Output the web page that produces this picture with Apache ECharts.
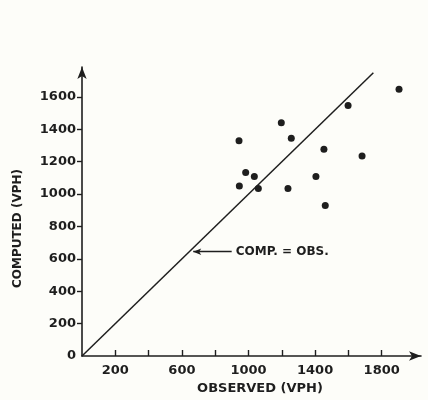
<!DOCTYPE html>
<html>
<head>
<meta charset="utf-8">
<script src="https://cdn.jsdelivr.net/npm/echarts@6/dist/echarts.min.js"></script>
<style>
  html, body { margin: 0; padding: 0; background: #fdfdf9; }
  #chart { width: 428px; height: 400px; }
</style>
</head>
<body>
<div id="chart"></div>
<script>
// observed vs computed volumes (vph)
const observed = [1904, 1598, 1197, 943, 1257, 1453, 1682, 983, 1035, 1405, 945, 1059, 1237, 1461]
const computed = [1647, 1547, 1441, 1330, 1345, 1277, 1236, 1134, 1109, 1109, 1050, 1034, 1034, 929]

// line of equality
const equalLine = [[0, 0], [1750, 1750]]

const xTicks = [200, 400, 600, 800, 1000, 1200, 1400, 1600, 1800]
const xLabels = [200, 600, 1000, 1400, 1800]
const yTicks = [200, 400, 600, 800, 1000, 1200, 1400, 1600]
const yLabels = [0, 200, 400, 600, 800, 1000, 1200, 1400, 1600]

const ink = '#1e1e1e'
const font = 'DejaVu Sans'

let chartDom = document.getElementById('chart')
let chart = echarts.init(chartDom)

chart.setOption({
    backgroundColor: '#fdfdf9',
    animation: false,
    grid: { left: 82, right: 7, top: 67, bottom: 42 },
    xAxis: {
        type: 'value',
        min: 0,
        max: 2036,
        name: 'OBSERVED (VPH)',
        nameLocation: 'middle',
        nameGap: 26,
        nameTextStyle: { color: ink, fontFamily: font, fontSize: 13, fontWeight: 'bold', padding: [0, 0, 0, 17] },
        axisLine: { lineStyle: { color: ink, width: 1.6 }, symbol: ['none', 'arrow'], symbolSize: [7, 12] },
        axisTick: { inside: true, length: 6, lineStyle: { color: ink, width: 1.4 }, customValues: xTicks },
        axisLabel: { color: ink, fontFamily: font, fontSize: 13, fontWeight: 'bold', margin: 8, customValues: xLabels, formatter: v => String(v) },
        splitLine: { show: false }
    },
    yAxis: {
        type: 'value',
        min: 0,
        max: 1785,
        name: 'COMPUTED (VPH)',
        nameLocation: 'middle',
        nameGap: 58,
        nameTextStyle: { color: ink, fontFamily: font, fontSize: 12, fontWeight: 'bold', padding: [0, 34, 0, 0] },
        axisLine: { lineStyle: { color: ink, width: 1.6 }, symbol: ['none', 'arrow'], symbolSize: [7, 12] },
        axisTick: { inside: false, length: 5, lineStyle: { color: ink, width: 1.4 }, customValues: yTicks },
        axisLabel: { color: ink, fontFamily: font, fontSize: 13, fontWeight: 'bold', margin: 6, customValues: yLabels, formatter: v => String(v) },
        splitLine: { show: false }
    },
    series: [
        {
            type: 'line',
            data: equalLine,
            symbol: 'none',
            lineStyle: { color: ink, width: 1.5 },
            markLine: {
                silent: true,
                symbol: ['none', 'arrow'],
                symbolSize: [5, 8],
                lineStyle: { color: ink, width: 1.3, type: 'solid' },
                label: {
                    show: true,
                    position: 'start',
                    distance: 4,
                    formatter: 'COMP. = OBS.',
                    color: ink,
                    fontFamily: font,
                    fontSize: 12,
                    fontWeight: 'bold'
                },
                data: [[{ coord: [899, 644] }, { coord: [668, 644] }]]
            }
        },
        {
            type: 'scatter',
            data: observed.map((x, i) => [x, computed[i]]),
            symbolSize: 7,
            itemStyle: { color: ink, opacity: 1 }
        }
    ]
})
</script>
</body>
</html>
